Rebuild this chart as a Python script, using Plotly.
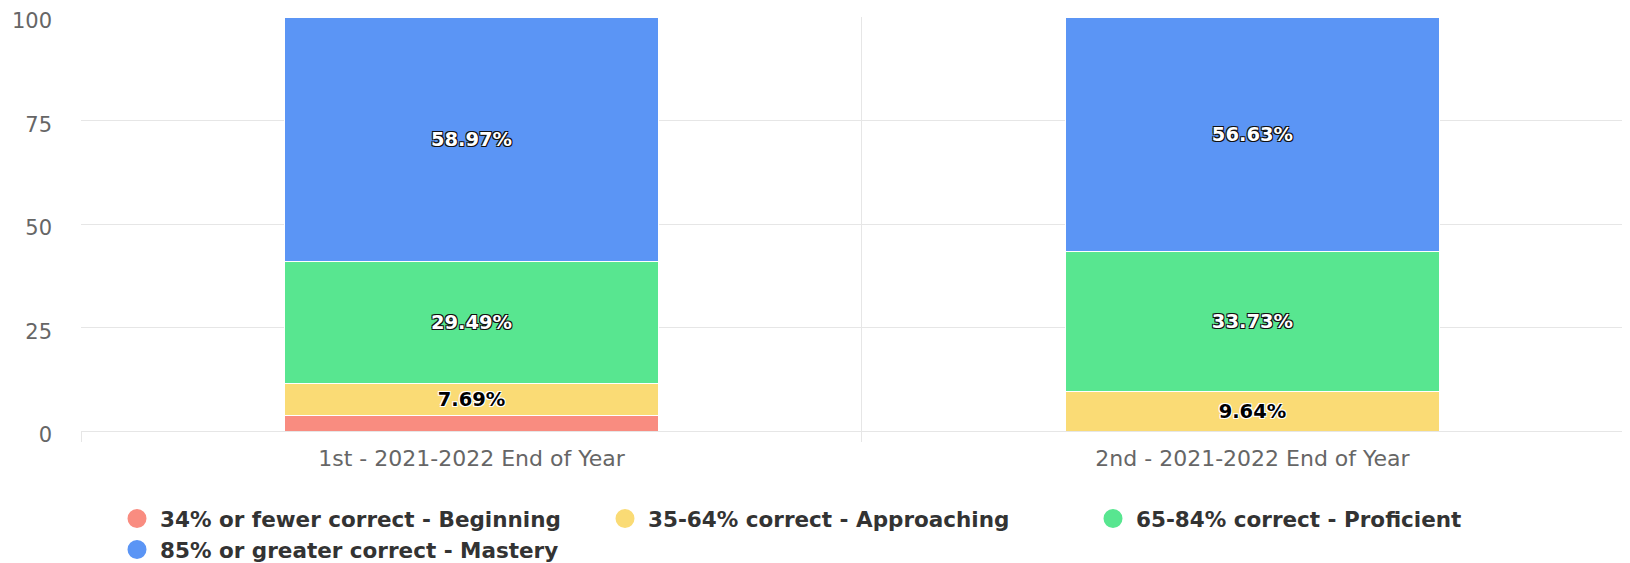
import plotly.graph_objects as go

categories = ["1st - 2021-2022 End of Year", "2nd - 2021-2022 End of Year"]
series_names = [
    "34% or fewer correct - Beginning",
    "35-64% correct - Approaching",
    "65-84% correct - Proficient",
    "85% or greater correct - Mastery",
]
beginning = [3.85, 0]
approaching = [7.69, 9.64]
proficient = [29.49, 33.73]
mastery = [58.97, 56.63]
y_ticks = [0, 25, 50, 75, 100]

colors = ["#F98C80", "#FADB75", "#58E690", "#5B95F5"]
values = [beginning, approaching, proficient, mastery]

outline_dark = "1px 1px 0 #111, -1px -1px 0 #111, 1px -1px 0 #111, -1px 1px 0 #111"
outline_light = "1px 1px 0 #fff, -1px -1px 0 #fff, 1px -1px 0 #fff, -1px 1px 0 #fff"
label_colors = ["#000000", "#000000", "#ffffff", "#ffffff"]
label_shadows = [outline_light, outline_light, outline_dark, outline_dark]

W, H = 1622, 555

fig = go.Figure()
for name, vals, col, lc, sh in zip(series_names, values, colors, label_colors, label_shadows):
    texts = [f"{v:.2f}%" if v >= 5 else "" for v in vals]
    fig.add_trace(go.Bar(
        x=categories, y=vals, name=name, showlegend=False,
        marker=dict(color=col, line=dict(color="#ffffff", width=1)),
        text=texts, textposition="inside", insidetextanchor="middle",
        textangle=0, constraintext="none",
        textfont=dict(family="DejaVu Sans", size=19.5, color=lc, weight="bold", shadow=sh),
        hoverinfo="skip",
    ))

for name, col in zip(series_names, colors):
    fig.add_trace(go.Scatter(
        x=[None], y=[None], mode="markers", name=name,
        marker=dict(color=col, size=16, symbol="circle", line=dict(color=col, width=3)),
        showlegend=True,
    ))

fig.update_layout(
    width=W, height=H,
    margin=dict(l=73, r=0, t=9, b=132, autoexpand=False),
    paper_bgcolor="#ffffff", plot_bgcolor="#ffffff",
    barmode="stack", bargap=0.522,
    font=dict(family="DejaVu Sans", color="#666666"),
    xaxis=dict(
        type="category", range=[-0.5, 1.4834],
        tickson="boundaries", showgrid=True, gridcolor="#e6e6e6", gridwidth=1,
        ticks="outside", ticklen=10, tickcolor="#e6e6e6",
        showline=True, linecolor="#e6e6e6", linewidth=1,
        tickfont=dict(size=22, color="#666666"),
        ticklabelstandoff=8,
        zeroline=False, automargin=False,
    ),
    yaxis=dict(
        range=[0, 100], tickvals=y_ticks,
        showgrid=True, gridcolor="#e6e6e6", gridwidth=1,
        zeroline=False, showline=False, ticks="",
        tickfont=dict(size=21, color="#666666"),
        ticklabelstandoff=28, automargin=False,
        ticklabelshift=4, ticklabeloverflow="allow",
    ),
    legend=dict(
        orientation="h", xref="container", yref="container",
        x=106 / W, y=1 - 490 / H, xanchor="left", yanchor="top",
        font=dict(family="DejaVu Sans", size=21.5, color="#333333", weight="bold"),
        entrywidth=437, traceorder="normal",
        itemsizing="trace", itemwidth=36,
    ),
)

fig.write_html("out.html")
